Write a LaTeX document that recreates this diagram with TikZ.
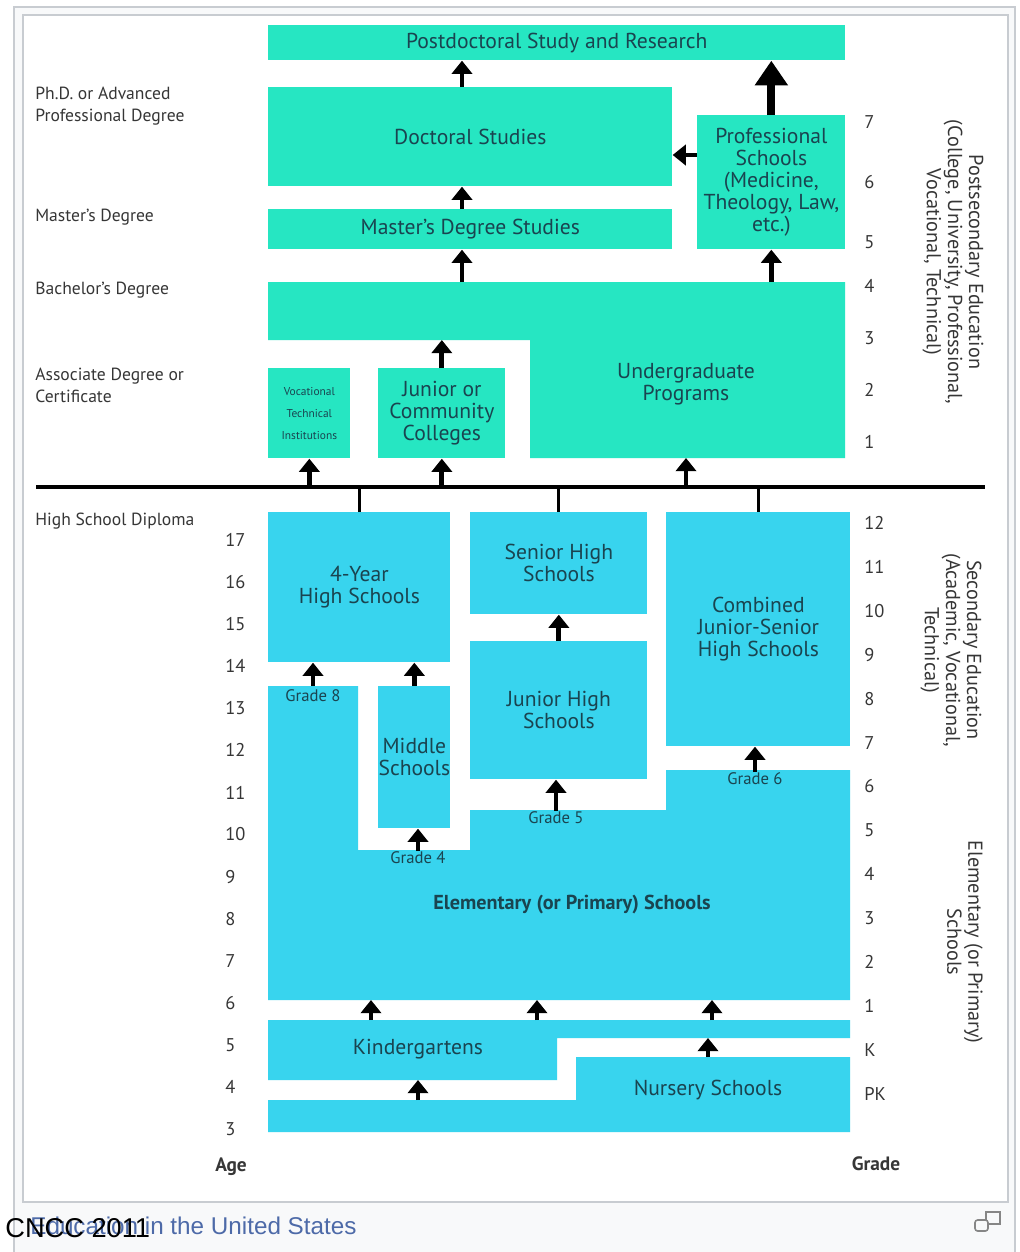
\documentclass[tikz,border=0pt]{standalone}
\usepackage{fontspec}
\setmainfont{PT Sans}
\newfontfamily\legende{Liberation Sans}
\usetikzlibrary{arrows.meta}

\definecolor{vert}{HTML}{26E6C2}
\definecolor{bleu}{HTML}{38D4EE}
\definecolor{encre}{HTML}{1A4450}
\definecolor{gris}{HTML}{363636}
\definecolor{cadre}{HTML}{C8CCD1}
\definecolor{fond}{HTML}{F8F9FA}
\definecolor{lien}{HTML}{4D6AA8}

\tikzset{
  bloc/.style={anchor=north west, inner sep=0pt, align=center, text=encre,
    font=\fontsize{12.3}{12.6}\selectfont},
  texte/.style={inner sep=0pt, align=center, text=encre, font=\fontsize{12.3}{12.6}\selectfont},
  grade/.style={anchor=north, inner sep=0pt, text=encre, font=\fontsize{9.5}{10}\selectfont},
  etiq/.style={anchor=west, inner sep=0pt, align=left, text=gris, font=\fontsize{10}{12.5}\selectfont},
  num/.style={anchor=west, inner sep=0pt, text=gris, font=\fontsize{10.5}{12}\selectfont},
  vertical/.style={rotate=-90, inner sep=0pt, align=center, text=gris, font=\fontsize{11.5}{12}\selectfont},
  fleche/.style={line width=2.8pt, -{Triangle[width=11.5pt,length=7.5pt]}},
  grosse fleche/.style={line width=4.5pt, -{Triangle[width=18pt,length=14pt]}},
}

\begin{document}
\begin{tikzpicture}[x=0.02cm,y=-0.02cm]
  \useasboundingbox (0,0) rectangle (1019,1252);
  % Cadres
  \filldraw[fill=fond, draw=cadre, line width=0.8pt] (14,7) rectangle (1015,1270);
  \filldraw[fill=white, draw=cadre, line width=0.8pt] (23,15) rectangle (1008,1202);

  % Enseignement supérieur
  \node[bloc, fill=vert, minimum width=11.54cm, minimum height=0.7cm] (post) at (268,25) {Postdoctoral Study and Research};
  \node[bloc, fill=vert, minimum width=8.08cm, minimum height=1.98cm] (doc) at (268,87) {Doctoral Studies};
  \node[bloc, fill=vert, minimum width=2.96cm, minimum height=2.68cm] (prof) at (697,115) {Professional\\Schools\\(Medicine,\\Theology, Law,\\etc.)};
  \node[bloc, fill=vert, minimum width=8.08cm, minimum height=0.8cm] (master) at (268,209) {Master's Degree Studies};
  \fill[vert] (268,282) -- (845,282) -- (845,458) -- (530,458) -- (530,340) -- (268,340) -- cycle;
  \node[texte] (ug) at (686,384) {Undergraduate\\Programs};
  \node[bloc, fill=vert, minimum width=1.64cm, minimum height=1.8cm, font=\fontsize{6.5}{12.5}\selectfont] (voc) at (268,368) {Vocational\\Technical\\Institutions};
  \node[bloc, fill=vert, minimum width=2.54cm, minimum height=1.8cm] (junior) at (378,368) {Junior or\\Community\\Colleges};
  \coordinate (axe) at (462,0);
  \coordinate (niv) at (0,155);
  \coordinate (ughaut) at (0,282);
  \coordinate (ugcran) at (0,340);
  \coordinate (ugbas) at (0,458);
  \draw[fleche] (doc.north -| axe) -- (post.south -| axe);
  \draw[grosse fleche] (prof.north) -- (prof.north |- post.south);
  \draw[fleche] (prof.west |- niv) -- (doc.east |- niv);
  \draw[fleche] (master.north -| axe) -- (doc.south -| axe);
  \draw[fleche] (ughaut -| axe) -- (master.south -| axe);
  \draw[fleche] (prof.south |- ughaut) -- (prof.south);
  \draw[fleche] (junior.north) -- (junior.north |- ugcran);

  % Diplôme de fin d'études secondaires
  \coordinate (hsg) at (36,487);
  \coordinate (hsd) at (985,487);
  \draw[line width=2.8pt] (hsg) -- (hsd);
  \draw[fleche] (voc.south |- hsg) -- (voc.south);
  \draw[fleche] (junior.south |- hsg) -- (junior.south);
  \draw[fleche] (ug |- hsg) -- (ug |- ugbas);

  % Enseignement secondaire
  \node[bloc, fill=bleu, minimum width=3.64cm, minimum height=3cm] (fouryear) at (268,512) {4-Year\\High Schools};
  \node[bloc, fill=bleu, minimum width=3.54cm, minimum height=2.04cm] (senior) at (470,512) {Senior High\\Schools};
  \node[bloc, fill=bleu, minimum width=3.54cm, minimum height=2.76cm] (jrhigh) at (470,641) {Junior High\\Schools};
  \node[bloc, fill=bleu, minimum width=3.68cm, minimum height=4.68cm] (combined) at (666,512) {Combined\\Junior-Senior\\High Schools};
  \foreach \b in {fouryear,senior,combined}
    \draw[line width=1.7pt] (\b.north) -- (\b.north |- hsg);
  \draw[fleche] (jrhigh.north) -- (senior.south);

  % Enseignement primaire
  \fill[bleu] (268,686) -- (358,686) -- (358,850) -- (470,850) -- (470,810) -- (666,810) -- (666,770) -- (850,770) -- (850,1000) -- (268,1000) -- cycle;
  \node[bloc, fill=bleu, minimum width=1.44cm, minimum height=2.84cm] (middle) at (378,686) {Middle\\Schools};
  \node[texte, font=\bfseries\fontsize{11.5}{12}\selectfont] (elem) at (572,904) {Elementary (or Primary) Schools};
  \coordinate (elhaut) at (0,686);
  \node[grade] (g8) at (313,689) {Grade 8};
  \node[grade] (g4) at (418,851) {Grade 4};
  \node[grade] (g5) at (556,811) {Grade 5};
  \node[grade] (g6) at (755,772) {Grade 6};
  \draw[fleche] (g8 |- elhaut) -- (g8 |- fouryear.south);
  \draw[fleche] (middle.north) -- (middle.north |- fouryear.south);
  \draw[fleche] (g4.north) -- (g4 |- middle.south);
  \draw[fleche] (g5.north) -- (g5 |- jrhigh.south);
  \draw[fleche] (g6.north) -- (g6 |- combined.south);

  % Maternelle et jardins d'enfants
  \fill[bleu] (268,1020) -- (850,1020) -- (850,1038) -- (557,1038) -- (557,1080) -- (268,1080) -- cycle;
  \fill[bleu] (268,1100) -- (576,1100) -- (576,1057) -- (850,1057) -- (850,1132) -- (268,1132) -- cycle;
  \node[texte] (kg) at (418,1049) {Kindergartens};
  \node[texte] (ns) at (708,1090) {Nursery Schools};
  \coordinate (elbas) at (0,1000);
  \coordinate (khaut) at (0,1020);
  \coordinate (kbande) at (0,1038);
  \coordinate (kbas) at (0,1080);
  \coordinate (nhaut) at (0,1057);
  \coordinate (barre) at (0,1100);
  \foreach \x in {371,537,712}
    \draw[fleche] (khaut -| \x,0) -- (elbas -| \x,0);
  \draw[fleche] (ns |- nhaut) -- (ns |- kbande);
  \draw[fleche] (kg |- barre) -- (kg |- kbas);

  % Diplômes à gauche
  \node[etiq] at (35,106) {Ph.D. or Advanced\\Professional Degree};
  \node[etiq] at (35,217) {Master's Degree};
  \node[etiq] at (35,290) {Bachelor's Degree};
  \node[etiq] at (35,385) {Associate Degree or\\Certificate};
  \node[etiq] at (35,521) {High School Diploma};

  % Ages et années
  \foreach \a [count=\i from 0] in {17,16,...,3}
    \node[num] at (225,540+42.07*\i) {\a};
  \foreach \g [count=\i from 0] in {12,11,10,9,8,7,6,5,4,3,2,1,K,PK}
    \node[num] at (864,523+43.92*\i) {\g};
  \foreach \g/\y in {7/122,6/182,5/242,4/286,3/338,2/390,1/442}
    \node[num] at (864,\y) {\g};
  \node[font=\bfseries\fontsize{11}{12}\selectfont, text=gris] (age) at (231,1167) {Age};
  \node[font=\bfseries\fontsize{11}{12}\selectfont, text=gris] (grd) at (876,1164) {Grade};

  % Titres verticaux
  \node[vertical] at (953,262) {Postsecondary Education\\(College, University, Professional,\\Vocational, Technical)};
  \node[vertical] at (951,650) {Secondary Education\\(Academic, Vocational,\\Technical)};
  \node[vertical] at (965,942) {Elementary (or Primary)\\Schools};

  % Légende
  \node[anchor=west, inner sep=0pt, text=lien, font=\legende\fontsize{13.8}{15}\selectfont] (leg) at (30,1226) {Education in the United States};
  \node[anchor=west, inner sep=0pt, font=\legende\fontsize{15.5}{17}\selectfont] (cncc) at (5,1228) {CNCC 2011};
  \draw[gris!60, line width=0.9pt] (986,1212) rectangle (1000,1224);
  \draw[gris!60, line width=0.9pt, fill=fond, rounded corners=1.5pt] (975,1220) rectangle (988,1231);
\end{tikzpicture}
\end{document}
